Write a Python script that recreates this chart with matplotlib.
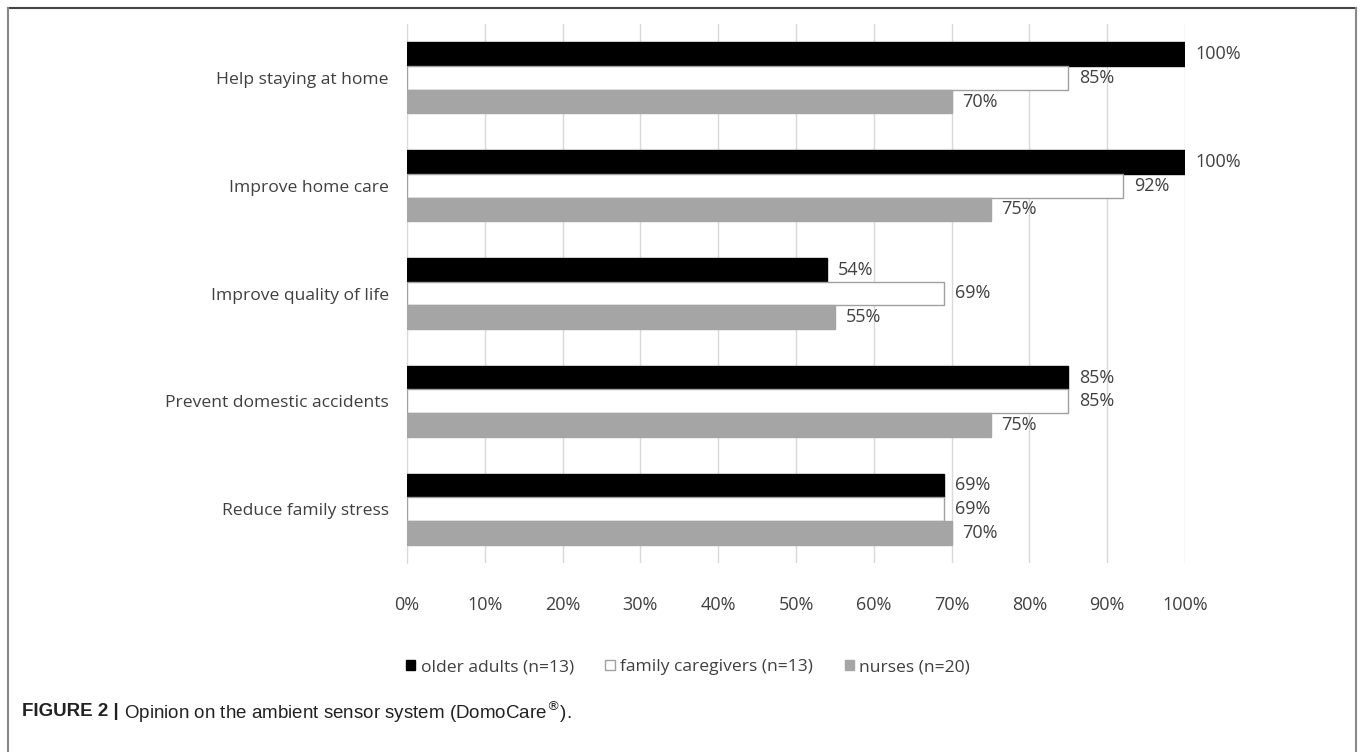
import matplotlib.pyplot as plt
import numpy as np
from matplotlib.lines import Line2D

categories = ['Help staying at home', 'Improve home care', 'Improve quality of life',
              'Prevent domestic accidents', 'Reduce family stress']
older = [100, 100, 54, 85, 69]
family = [85, 92, 69, 85, 69]
nurses = [70, 75, 55, 75, 70]
series_names = ['older adults (n=13)', 'family caregivers (n=13)', 'nurses (n=20)']
xticks = [0, 10, 20, 30, 40, 50, 60, 70, 80, 90, 100]

plt.rcParams['font.family'] = ['Open Sans', 'DejaVu Sans']
txt = '#404040'

fig = plt.figure(figsize=(13.62, 7.52), dpi=100)
ax = fig.add_axes([407/1362, 1-563/752, (1185-407)/1362, (563-24)/752])

y = np.arange(len(categories))
h = 0.22
vals = [older, family, nurses]
faces = ['black', 'white', '#a5a5a5']
edges = ['black', '#a0a0a0', '#a5a5a5']
for k in range(3):
    pos = y + (k - 1) * h
    ax.barh(pos, vals[k], height=h, color=faces[k], edgecolor=edges[k],
            linewidth=1, label=series_names[k], zorder=3)
    for p, v in zip(pos, vals[k]):
        ax.text(v + 1.4, p, '%d%%' % v, va='center', ha='left', fontsize=13, color=txt)

ax.set_ylim(len(categories) - 0.5, -0.5)
ax.set_xlim(0, 100)
ax.set_yticks(y)
ax.set_yticklabels(categories, fontsize=12.6, color=txt)
ax.set_xticks(xticks)
ax.set_xticklabels(['%d%%' % t for t in xticks], fontsize=13, color=txt)
ax.tick_params(axis='both', length=0)
ax.tick_params(axis='y', pad=13)
ax.tick_params(axis='x', pad=24)
ax.grid(axis='x', color='#d9d9d9', linewidth=1, zorder=0)
for s in ['top', 'right', 'bottom']:
    ax.spines[s].set_visible(False)
ax.spines['left'].set_color('#d9d9d9')

leg = fig.legend(loc='center', bbox_to_anchor=(688/1362, 1-667/752), ncol=3,
                 frameon=False, fontsize=12.6, handlelength=0.55, handleheight=0.55,
                 handletextpad=0.3, columnspacing=1.8)
for t in leg.get_texts():
    t.set_color(txt)

# outer frame
fig.add_artist(Line2D([8/1362, 1356/1362], [1-8/752, 1-8/752], color='#444444', lw=1.5))
fig.add_artist(Line2D([8/1362, 8/1362], [0, 1-8/752], color='#888888', lw=1.5))
fig.add_artist(Line2D([1356/1362, 1356/1362], [0, 1-8/752], color='#888888', lw=1.5))

cap = fig.text(22/1362, 1-712/752, 'FIGURE 2 | ', fontweight='bold', fontsize=13.5,
               color='#222222', va='center', ha='left', family=['Liberation Sans', 'DejaVu Sans'])
fig.canvas.draw()
bb = cap.get_window_extent()
fig.text(bb.x1 / 1362, 1-712/752, 'Opinion on the ambient sensor system (DomoCare$^{\\circledR}$).',
         fontsize=13.5, color='#222222', va='center', ha='left',
         family=['Liberation Sans', 'DejaVu Sans'])

fig.savefig('out.png', dpi=100)
